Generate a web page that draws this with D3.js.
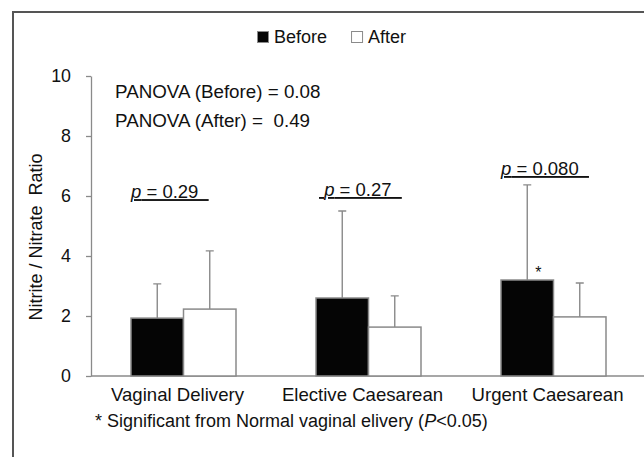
<!DOCTYPE html>
<html>
<head>
<meta charset="utf-8">
<script src="https://cdn.jsdelivr.net/npm/d3@7"></script>
<style>
  body { margin: 0; background: #fff; }
  text { font-family: "Liberation Sans", Arial, sans-serif; fill: #111; white-space: pre; }
</style>
</head>
<body>
<script>
(function(){

    // data
    const categories = ["Vaginal Delivery", "Elective Caesarean", "Urgent Caesarean"];
    const series = ["Before", "After"];
    const beforeMean = [1.93, 2.60, 3.20];
    const beforeSD = [1.14, 2.90, 3.17];
    const afterMean = [2.23, 1.63, 1.97];
    const afterSD = [1.94, 1.04, 1.13];
    const pLabels = ["p = 0.29  ", " p = 0.27  ", "p = 0.080  "];
    const pLabelY = [5.93, 6.0, 6.7];
    const significant = [false, false, true];
    const yTicks = [0, 2, 4, 6, 8, 10];

    const svgWidth = 644, svgHeight = 457;
    const chartMargin = { top: 76, left: 91 };
    const chartWidth = 555, chartHeight = 300;
    const grey = "#8a8a8a";

    const svg = d3.select("body")
        .append("svg")
        .attr("width", svgWidth)
        .attr("height", svgHeight);

    // frame
    svg.append("path")
        .attr("d", `M13,${svgHeight} V12 H${svgWidth}`)
        .attr("fill", "none")
        .attr("stroke", "#555")
        .attr("stroke-width", 2);

    const chartGroup = svg.append("g")
        .attr("transform", `translate(${chartMargin.left}, ${chartMargin.top})`);

    const xScale = d3.scaleBand()
        .domain(categories)
        .range([0, chartWidth]);

    const xSub = d3.scaleBand()
        .domain(series)
        .range([-52.5, 52.5]);

    const yScale = d3.scaleLinear()
        .domain([0, 10])
        .range([chartHeight, 0]);

    const rows = categories.map((c, i) => ({
        cat: c,
        values: [
            { s: "Before", mean: beforeMean[i], sd: beforeSD[i] },
            { s: "After", mean: afterMean[i], sd: afterSD[i] }
        ]
    }));

    // y axis
    const leftAxis = d3.axisLeft(yScale)
        .tickValues(yTicks)
        .tickSize(5)
        .tickSizeOuter(0)
        .tickPadding(15);

    const yAxisG = chartGroup.append("g").call(leftAxis);
    yAxisG.selectAll("path, line").attr("stroke", grey).attr("stroke-width", 1.3);
    yAxisG.selectAll("text")
        .attr("font-size", 17.8)
        .attr("font-family", "Liberation Sans, Arial, sans-serif")
        .attr("fill", "#111");

    // x baseline
    chartGroup.append("line")
        .attr("x1", 0).attr("x2", chartWidth)
        .attr("y1", yScale(0)).attr("y2", yScale(0))
        .attr("stroke", grey)
        .attr("stroke-width", 1.3);

    const groups = chartGroup.selectAll(".grp")
        .data(rows)
        .enter()
        .append("g")
        .attr("class", "grp")
        .attr("transform", d => `translate(${xScale(d.cat) + xScale.bandwidth() / 2}, 0)`);

    // error bars (drawn first so bars sit over the stems)
    groups.selectAll(".err")
        .data(d => d.values)
        .enter()
        .append("path")
        .attr("class", "err")
        .attr("d", d => {
            const cx = xSub(d.s) + xSub.bandwidth() / 2;
            const top = yScale(d.mean + d.sd);
            return `M${cx},${yScale(d.mean)} V${top} M${cx - 4},${top} H${cx + 4}`;
        })
        .attr("fill", "none")
        .attr("stroke", grey)
        .attr("stroke-width", 1.4);

    groups.selectAll(".bar")
        .data(d => d.values)
        .enter()
        .append("rect")
        .attr("class", "bar")
        .attr("x", d => xSub(d.s))
        .attr("width", xSub.bandwidth())
        .attr("y", d => yScale(d.mean))
        .attr("height", d => yScale(0) - yScale(d.mean))
        .attr("fill", d => d.s === "Before" ? "#050505" : "#fff")
        .attr("stroke", grey)
        .attr("stroke-width", 1.5);

    // significance star
    groups.filter((d, i) => significant[i])
        .append("text")
        .attr("x", xSub("Before") + xSub.bandwidth() / 2 + 11)
        .attr("y", d => yScale(d.values[0].mean) - 2)
        .attr("text-anchor", "middle")
        .attr("font-size", 16)
        .text("*");

    // p values, underlined
    groups.append("text")
        .attr("x", xSub("Before"))
        .attr("y", (d, i) => yScale(pLabelY[i]))
        .attr("font-size", 18.5)
        .attr("text-decoration", "underline")
        .each(function(d, i) {
            const t = d3.select(this);
            const lead = pLabels[i].match(/^ */)[0];
            if (lead) t.attr("dx", 3);
            t.append("tspan").text(lead);
            t.append("tspan").attr("font-style", "italic").text("p");
            t.append("tspan").text(pLabels[i].trimStart().slice(1));
        });

    // category labels
    chartGroup.selectAll(".cat")
        .data(categories)
        .enter()
        .append("text")
        .attr("x", d => xScale(d) + xScale.bandwidth() / 2 - 6)
        .attr("y", chartHeight + 25)
        .attr("text-anchor", "middle")
        .attr("font-size", 18.6)
        .text(d => d);

    // ANOVA notes
    svg.append("text").attr("x", 115).attr("y", 98).attr("font-size", 18.8)
        .text("PANOVA (Before) = 0.08");
    svg.append("text").attr("x", 115).attr("y", 127).attr("font-size", 18.8)
        .text("PANOVA (After) =  0.49");

    // footnote
    const foot = svg.append("text").attr("x", 95).attr("y", 427).attr("font-size", 18);
    foot.append("tspan").text("* Significant from Normal vaginal elivery (");
    foot.append("tspan").attr("font-style", "italic").text("P");
    foot.append("tspan").text("<0.05)");

    // y axis title
    svg.append("text")
        .attr("transform", "translate(42, 237) rotate(-90)")
        .attr("text-anchor", "middle")
        .attr("font-size", 18)
        .text("Nitrite / Nitrate  Ratio");

    // legend
    const legend = svg.append("g").attr("transform", "translate(257, 31)");
    let lx = 0;
    series.forEach(s => {
        legend.append("rect")
            .attr("x", lx + 0.5).attr("y", 0.5)
            .attr("width", 11).attr("height", 11)
            .attr("fill", s === "Before" ? "#050505" : "#fff")
            .attr("stroke", grey)
            .attr("stroke-width", 1);
        const t = legend.append("text")
            .attr("x", lx + 17).attr("y", 12)
            .attr("font-size", 18)
            .text(s);
        lx += 17 + t.node().getComputedTextLength() + 24;
    });

})();
</script>
</body>
</html>
